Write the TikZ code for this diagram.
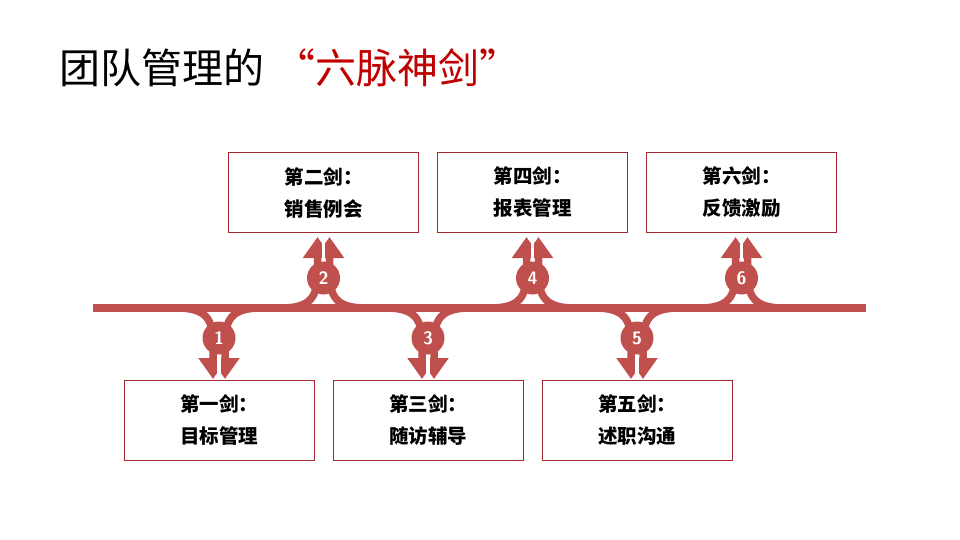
\documentclass[tikz,border=0pt]{standalone}
\usepackage{fontspec}
\newfontfamily\cjk{Noto Sans CJK SC}
\usetikzlibrary{arrows.meta}
\definecolor{swordred}{HTML}{C0504D}
\definecolor{boxred}{HTML}{A3282F}
\definecolor{titlered}{HTML}{C00000}

\begin{document}
\begin{tikzpicture}[x=1pt,y=-1pt,
  mainline/.style={draw=swordred,line width=8.5pt},
  swordarrow/.style={draw=swordred,line width=7.5pt,-{Triangle[width=28pt,length=21pt]}},
  gapline/.style={draw=white,line width=3.5pt},
  numdot/.style={circle,fill=swordred,minimum size=33pt,inner sep=0pt,text=white,
    font=\sffamily\bfseries\fontsize{18}{18}\selectfont},
  swordbox/.style={draw=boxred,line width=0.8pt,minimum width=190pt,minimum height=80pt,
    align=left,font=\cjk\bfseries\fontsize{19.5}{32}\selectfont}]
\useasboundingbox (0,0) rectangle (960,540);
\fill[white] (0,0) rectangle (960,540);

% title
\node[anchor=west,inner sep=0pt,font=\cjk\fontsize{41}{41}\selectfont] (title) at (59,68) {团队管理的};
\node[anchor=west,inner sep=0pt,text=titlered,font=\cjk\fontsize{41}{41}\selectfont] (motto) at (274,68) {“六脉神剑”};

% main line
\coordinate (start) at (93,308);
\coordinate (end) at (866,308);
\draw[mainline] (start) -- (end);

% six swords
\foreach \n/\cx/\dir/\by/\num/\txt in {1/219/1/420/一/目标管理, 2/323.5/-1/192.5/二/销售例会,
    3/428/1/420/三/随访辅导, 4/532.5/-1/192.5/四/报表管理,
    5/637/1/420/五/述职沟通, 6/741.5/-1/192.5/六/反馈激励}{
  \pgfmathsetmacro\cy{308+30*\dir}
  \pgfmathsetmacro\ty{308+71*\dir}
  \pgfmathsetmacro\ky{308+12*\dir}
  \pgfmathsetmacro\sy{308+36*\dir}
  \coordinate (split\n-l) at (\cx-42,308);
  \coordinate (split\n-r) at (\cx+42,308);
  \coordinate (tip\n-l) at (\cx-6,\ty);
  \coordinate (tip\n-r) at (\cx+6,\ty);
  \coordinate (tip\n) at (\cx,\ty);
  \coordinate (hub\n) at (\cx,\cy);
  \draw[swordarrow] (split\n-l) .. controls (\cx-12,308) and (\cx-6,\ky) .. (\cx-6,\sy) -- (tip\n-l);
  \draw[swordarrow] (split\n-r) .. controls (\cx+12,308) and (\cx+6,\ky) .. (\cx+6,\sy) -- (tip\n-r);
  \draw[gapline] (hub\n) -- (tip\n);
  \node[numdot] (dot\n) at (hub\n) {\n};
  \node[swordbox] (box\n) at (\cx,\by) {第\num 剑：\\\txt};
}
\end{tikzpicture}
\end{document}
